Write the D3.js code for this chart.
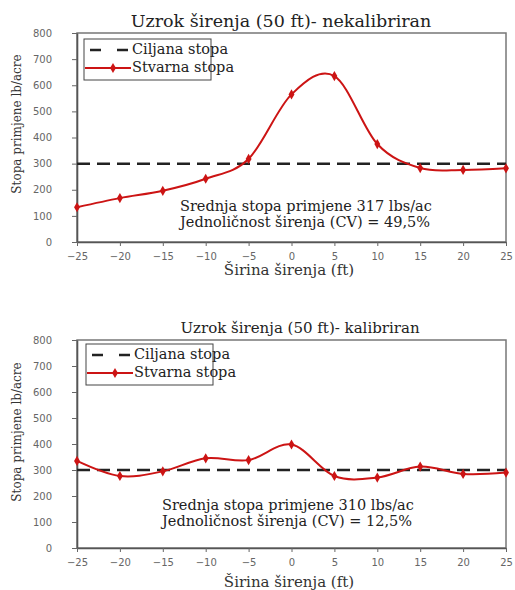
<!DOCTYPE html>
<html><head><meta charset="utf-8">
<script src="https://cdn.jsdelivr.net/npm/d3@7"></script>
<style>body{margin:0;background:#fff}svg{display:block}</style>
</head><body>
<svg id="c" width="515" height="590"></svg>
<script>
const xValues = [-25,-20,-15,-10,-5,0,5,10,15,20,25];
const uncalibrated = [133,168,196,242,318,565,635,375,283,276,282];
const calibrated = [335,277,295,345,338,398,277,271,313,285,290];
const targetRate = 300;
const yTicks = [0,100,200,300,400,500,600,700,800];
const xTicks = [-25,-20,-15,-10,-5,0,5,10,15,20,25];
const titles = ["Uzrok širenja (50 ft)- nekalibriran","Uzrok širenja (50 ft)- kalibriran"];
const notes = [["Srednja stopa primjene 317 lbs/ac","Jednoličnost širenja (CV) = 49,5%"],
               ["Srednja stopa primjene 310 lbs/ac","Jednoličnost širenja (CV) = 12,5%"]];
const legendLabels = ["Ciljana stopa","Stvarna stopa"];
const xTitle = "Širina širenja (ft)";
const yTitle = "Stopa primjene lb/acre";

const svg = d3.select("#c");
const serif = "'DejaVu Serif',serif";
const sans = "'DejaVu Sans',Verdana,sans-serif";
const red = "#cc1414";

const panels = [
  {data:uncalibrated, top:33, bottom:242, titleY:27, titleSize:17.5, titleX:281, leg:[84,39], noteX:180, noteY:211, tickY:260, xTitleY:275, yTitleY:124},
  {data:calibrated, top:340, bottom:548, titleY:333, titleSize:15, titleX:300, leg:[86,344], noteX:162, noteY:510, tickY:566, xTitleY:587, yTitleY:432}
];

panels.forEach((p,i)=>{
  const x = d3.scaleLinear().domain([-25,25]).range([77,506]);
  const y = d3.scaleLinear().domain([0,800]).range([p.bottom,p.top]);
  const g = svg.append("g");
  g.append("rect").attr("x",77).attr("y",p.top).attr("width",429).attr("height",p.bottom-p.top)
    .attr("fill","none").attr("stroke","#777").attr("stroke-width",1.5);
  const ya = g.append("g").attr("transform","translate(77,0)")
    .call(d3.axisLeft(y).tickValues(yTicks).tickSize(5).tickSizeOuter(0));
  ya.select(".domain").attr("stroke","#555").attr("stroke-width",1.6);
  ya.selectAll("line").attr("stroke","#666");
  ya.selectAll("text").attr("font-family",sans).attr("font-size",10).attr("fill","#666").attr("x",-25);
  const xa = g.append("g").attr("transform",`translate(0,${p.bottom})`)
    .call(d3.axisBottom(x).tickValues(xTicks).tickSize(4).tickSizeOuter(0));
  xa.select(".domain").attr("stroke","#555").attr("stroke-width",1.6);
  xa.selectAll("line").attr("stroke","#666");
  xa.selectAll("text").attr("font-family",sans).attr("font-size",10).attr("fill","#666")
    .attr("dy",null).attr("y",p.tickY-p.bottom);
  g.append("text").attr("x",p.titleX).attr("y",p.titleY).attr("text-anchor","middle")
    .attr("font-family",serif).attr("font-size",p.titleSize).attr("fill","#222").text(titles[i]);
  g.append("text").attr("x",289).attr("y",p.xTitleY).attr("text-anchor","middle")
    .attr("font-family",serif).attr("font-size",15).attr("fill","#333").text(xTitle);
  g.append("text").attr("transform",`translate(21,${p.yTitleY}) rotate(-90)`).attr("text-anchor","middle")
    .attr("font-family",serif).attr("font-size",12).attr("fill","#333").text(yTitle);
  g.append("line").attr("x1",x(-25)).attr("x2",x(25)).attr("y1",y(targetRate)).attr("y2",y(targetRate))
    .attr("stroke","#222").attr("stroke-width",2.5).attr("stroke-dasharray","13,7");
  const pts = xValues.map((v,j)=>[v,p.data[j]]);
  const line = d3.line().x(d=>x(d[0])).y(d=>y(d[1])).curve(d3.curveCardinal.tension(0));
  g.append("path").attr("d",line(pts)).attr("fill","none").attr("stroke",red).attr("stroke-width",2);
  g.selectAll("path.m").data(pts).join("path").attr("class","m")
    .attr("transform",d=>`translate(${x(d[0])},${y(d[1])})`)
    .attr("d",d3.symbol(d3.symbolDiamond,30)).attr("fill",red);
  notes[i].forEach((t,k)=>g.append("text").attr("x",p.noteX).attr("y",p.noteY+k*16)
    .attr("font-family",serif).attr("font-size",14.5).attr("fill","#222").text(t));
  const [lx,ly] = p.leg;
  g.append("rect").attr("x",lx).attr("y",ly).attr("width",127).attr("height",41)
    .attr("fill","none").attr("stroke","#444").attr("stroke-width",1);
  g.append("line").attr("x1",lx+6).attr("x2",lx+46).attr("y1",ly+11).attr("y2",ly+11)
    .attr("stroke","#222").attr("stroke-width",2.5).attr("stroke-dasharray","11,16");
  g.append("line").attr("x1",lx+1).attr("x2",lx+47).attr("y1",ly+29).attr("y2",ly+29)
    .attr("stroke",red).attr("stroke-width",2);
  g.append("path").attr("transform",`translate(${lx+29},${ly+29})`).attr("d",d3.symbol(d3.symbolDiamond,30)).attr("fill",red);
  legendLabels.forEach((t,k)=>g.append("text").attr("x",lx+48).attr("y",ly+15+k*18)
    .attr("font-family",serif).attr("font-size",14.5).attr("fill","#222").text(t));
});
</script>
</body></html>
